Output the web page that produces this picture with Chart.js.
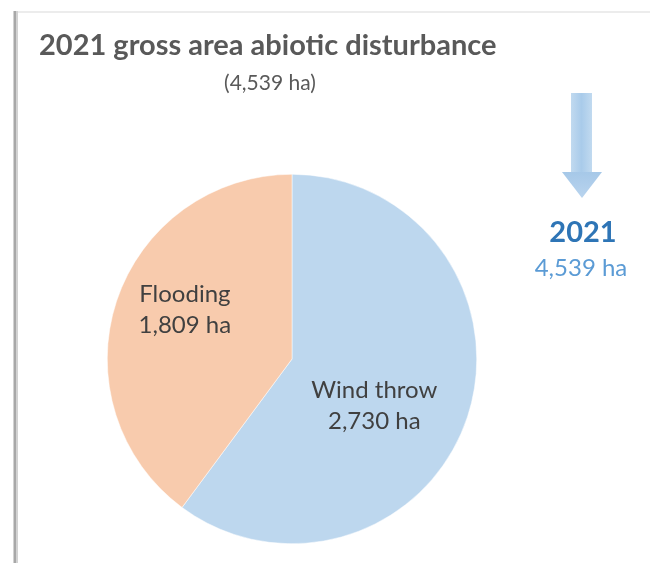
<!DOCTYPE html>
<html>
<head>
<meta charset="utf-8">
<script src="https://cdn.jsdelivr.net/npm/chart.js@4"></script>
<style>
  html, body { margin: 0; padding: 0; background: #fff; }
  #wrap { width: 650px; height: 563px; position: relative; }
</style>
</head>
<body>
<div id="wrap"><canvas id="myChart" width="650" height="563"></canvas></div>
<script>
// data
const categories = ['Wind throw', 'Flooding'];
const areaHa = [2730, 1809];
const year = '2021';
const totalHa = 4539;
const titleText = year + ' gross area abiotic disturbance';

const fmt = v => v.toLocaleString('en-US') + ' ha';
const FONT = 'Lato, "Open Sans", sans-serif';

// frame, titles, arrow and side total
const decor = {
  id: 'decor',
  beforeDraw(chart) {
    const ctx = chart.ctx;
    ctx.save();
    // left shadow border + faint top line
    ctx.fillStyle = '#ececec';
    ctx.fillRect(16, 11, 634, 2);
    ctx.fillStyle = '#d2d2d2';
    ctx.fillRect(13, 11, 5, 552);
    ctx.fillStyle = '#a8a8a8';
    ctx.fillRect(14, 11, 2, 552);
    ctx.restore();
  },
  afterDraw(chart) {
    const ctx = chart.ctx;
    ctx.save();
    ctx.textBaseline = 'alphabetic';
    ctx.fillStyle = '#595959';
    ctx.font = 'bold 29px ' + FONT;
    ctx.textAlign = 'left';
    ctx.fillText(titleText, 39, 55);
    ctx.font = '21px ' + FONT;
    ctx.textAlign = 'center';
    ctx.fillText('(' + fmt(totalHa) + ')', 270, 90);

    // arrow
    const g = ctx.createLinearGradient(570, 0, 593, 0);
    g.addColorStop(0, '#c3dbf0');
    g.addColorStop(0.5, '#a9cbea');
    g.addColorStop(1, '#c3dbf0');
    ctx.fillStyle = g;
    ctx.fillRect(571, 93, 21, 80);
    const g2 = ctx.createLinearGradient(0, 172, 0, 198);
    g2.addColorStop(0, '#a6c8e8');
    g2.addColorStop(1, '#b9d4ee');
    ctx.fillStyle = g2;
    ctx.beginPath();
    ctx.moveTo(562, 172);
    ctx.lineTo(602, 172);
    ctx.lineTo(582, 198);
    ctx.closePath();
    ctx.fill();

    ctx.textAlign = 'center';
    ctx.fillStyle = '#2e75b6';
    ctx.font = 'bold 29px ' + FONT;
    ctx.fillText(year, 583, 242);
    ctx.fillStyle = '#5b9bd5';
    ctx.font = '24px ' + FONT;
    ctx.fillText(fmt(totalHa), 581, 276);
    ctx.restore();
  }
};

// slice labels placed from the arc geometry
const sliceLabels = {
  id: 'sliceLabels',
  afterDatasetsDraw(chart, args, opts) {
    const ctx = chart.ctx;
    const meta = chart.getDatasetMeta(0);
    ctx.save();
    ctx.fillStyle = '#404040';
    ctx.font = '24px ' + FONT;
    ctx.textAlign = 'center';
    ctx.textBaseline = 'middle';
    meta.data.forEach((arc, i) => {
      const p = arc.getProps(['x', 'y', 'startAngle', 'endAngle', 'outerRadius'], true);
      const a = (p.startAngle + p.endAngle) / 2 + opts.shift[i];
      const r = p.outerRadius * opts.radius[i];
      const x = p.x + Math.cos(a) * r;
      const y = p.y + Math.sin(a) * r;
      ctx.fillText(chart.data.labels[i], x, y - 15);
      ctx.fillText(fmt(chart.data.datasets[0].data[i]), x, y + 16);
    });
    ctx.restore();
  }
};

const data = {
  labels: categories,
  datasets: [{
    data: areaHa,
    backgroundColor: ['#bdd7ee', '#f8cbad'],
    borderColor: '#ffffff',
    borderWidth: 0.5
  }]
};

const config = {
  type: 'pie',
  data: data,
  options: {
    responsive: false,
    animation: false,
    layout: { padding: { left: 107, right: 173, top: 174, bottom: 19 } },
    plugins: {
      legend: { display: false },
      tooltip: { enabled: false },
      sliceLabels: { radius: [0.51, 0.64], shift: [0.19, 0.118] }
    }
  },
  plugins: [decor, sliceLabels]
};

const myChart = new Chart(document.getElementById('myChart'), config);
</script>
</body>
</html>
